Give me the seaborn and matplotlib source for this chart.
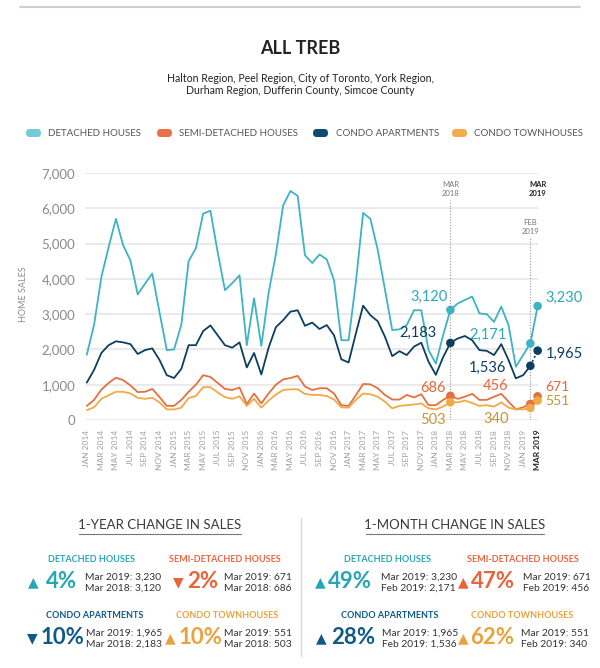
import matplotlib
matplotlib.use("Agg")
import matplotlib.pyplot as plt
import seaborn as sns
import pandas as pd
import numpy as np
from matplotlib.patches import FancyBboxPatch
from matplotlib.lines import Line2D
from matplotlib.ticker import FuncFormatter

# ---------------- data ----------------
months = ["JAN", "FEB", "MAR", "APR", "MAY", "JUN", "JUL", "AUG", "SEP", "OCT", "NOV", "DEC"]
dates = [f"{months[i % 12]} {2014 + i // 12}" for i in range(63)]  # Jan 2014 .. Mar 2019

detached = [1850, 2700, 4050, 4900, 5700, 4950, 4520, 3560, 3860, 4150, 3050, 1980,
            2000, 2700, 4500, 4870, 5850, 5930, 4750, 3680, 3880, 4100, 2120, 3450,
            2100, 3600, 4700, 6080, 6490, 6350, 4670, 4450, 4690, 4550, 3960, 2260,
            2260, 3900, 5870, 5700, 4830, 3700, 2550, 2570, 2690, 3110, 3110, 1980,
            1600, 2400, 3120, 3300, 3400, 3500, 3020, 3000, 2780, 3210, 2690, 1510,
            1840, 2171, 3230]
semi = [400, 570, 860, 1050, 1200, 1130, 980, 790, 800, 880, 650, 400,
        400, 570, 800, 1000, 1270, 1220, 1050, 880, 850, 920, 450, 750,
        470, 750, 1000, 1150, 1190, 1250, 950, 850, 900, 900, 750, 420,
        400, 700, 1020, 1010, 900, 710, 580, 580, 710, 640, 730, 420,
        420, 570, 686, 600, 660, 740, 570, 570, 660, 740, 520, 300,
        360, 456, 671]
condo_apt = [1060, 1420, 1900, 2120, 2230, 2200, 2150, 1870, 1980, 2030, 1700, 1270,
             1190, 1450, 2120, 2120, 2520, 2680, 2400, 2120, 2050, 2200, 1490, 1900,
             1290, 2050, 2630, 2830, 3070, 3110, 2670, 2760, 2580, 2690, 2400, 1720,
             1630, 2450, 3240, 2970, 2800, 2360, 1810, 1950, 1840, 2080, 2190, 1650,
             1280, 1780, 2183, 2310, 2380, 2260, 1980, 1960, 1840, 2150, 1700, 1180,
             1270, 1536, 1965]
condo_town = [280, 360, 600, 700, 800, 800, 750, 630, 600, 630, 500, 300,
              300, 350, 620, 680, 930, 930, 780, 650, 600, 670, 400, 600,
              350, 550, 720, 850, 870, 870, 740, 710, 710, 680, 580, 360,
              350, 570, 750, 730, 660, 520, 330, 400, 420, 440, 470, 330,
              300, 380, 503, 500, 550, 480, 400, 420, 380, 500, 350, 300,
              300, 340, 551]

series_names = ["DETACHED HOUSES", "SEMI-DETACHED HOUSES", "CONDO APARTMENTS", "CONDO TOWNHOUSES"]
series_values = [detached, semi, condo_apt, condo_town]
line_colors = ["#3db3c3", "#e4703f", "#0c3f5f", "#efaa45"]
label_colors = ["#2aa9b9", "#e4673c", "#0c3f5f", "#c9923a"]

tick_idx = list(range(0, 63, 2))
tick_labels = [dates[i] for i in tick_idx]

highlight_idx = [50, 61, 62]  # Mar 2018, Feb 2019, Mar 2019

# 1-year / 1-month change panels
year_pct = ["4%", "2%", "10%", "10%"]
year_up = [True, False, False, True]
year_lines = [("Mar 2019: 3,230", "Mar 2018: 3,120"), ("Mar 2019: 671", "Mar 2018: 686"),
              ("Mar 2019: 1,965", "Mar 2018: 2,183"), ("Mar 2019: 551", "Mar 2018: 503")]
month_pct = ["49%", "47%", "28%", "62%"]
month_up = [True, True, True, True]
month_lines = [("Mar 2019: 3,230", "Feb 2019: 2,171"), ("Mar 2019: 671", "Feb 2019: 456"),
               ("Mar 2019: 1,965", "Feb 2019: 1,536"), ("Mar 2019: 551", "Feb 2019: 340")]

# ---------------- frame ----------------
rows = []
for name, vals in zip(series_names, series_values):
    for i, v in enumerate(vals):
        rows.append({"idx": i, "sales": v, "type": name})
df = pd.DataFrame(rows)
palette = dict(zip(series_names, line_colors))

sns.set_theme(style="white")
plt.rcParams["font.family"] = ["Lato", "DejaVu Sans"]

W, H = 600, 668
fig = plt.figure(figsize=(W / 100, H / 100), dpi=100)
fig.patch.set_facecolor("white")

def fx(px):
    return px / W

def fy(py):
    return 1 - py / H

ax = fig.add_axes([fx(85), fy(420), 453 / W, 247 / H])

solid = df[df["idx"] <= 61]
sns.lineplot(data=solid, x="idx", y="sales", hue="type", palette=palette,
             hue_order=series_names, legend=False, ax=ax, linewidth=1.3, sort=True)
# dotted final segment for three series, solid for detached
last = df[df["idx"] >= 61]
sns.lineplot(data=last[last["type"] == series_names[0]], x="idx", y="sales", color=line_colors[0],
             legend=False, ax=ax, linewidth=1.3)
for name, col in zip(series_names[1:], line_colors[1:]):
    sns.lineplot(data=last[last["type"] == name], x="idx", y="sales", color=col,
                 legend=False, ax=ax, linewidth=1.3, linestyle=(0, (1, 1.5)))
pts = df[df["idx"].isin(highlight_idx)]
sns.scatterplot(data=pts, x="idx", y="sales", hue="type", palette=palette, hue_order=series_names,
                legend=False, ax=ax, s=38, edgecolor="none", zorder=5, clip_on=False)

ax.set_xlim(-0.25, 62.05)
ax.set_ylim(0, 7000)
ax.set_yticks(range(0, 7001, 1000))
ax.yaxis.set_major_formatter(FuncFormatter(lambda v, p: f"{int(v):,}"))
ax.set_xticks(tick_idx)
ax.set_xticklabels(tick_labels, rotation=90, fontsize=6, color="#a0a0a0")
xl = ax.get_xticklabels()
xl[-1].set_fontweight("bold")
xl[-1].set_color("#222222")
ax.tick_params(axis="y", length=0, labelsize=9.5, labelcolor="#8a8a8a", pad=7)
ax.tick_params(axis="x", direction="in", length=4, color="#d6d6d6", pad=7)
ax.yaxis.grid(True, color="#e6e6e6", linewidth=1.2)
ax.xaxis.grid(False)
for s in ax.spines.values():
    s.set_visible(False)
ax.set_xlabel("")
ax.set_ylabel("HOME SALES", fontsize=6.5, color="#8a8a8a")
ax.yaxis.set_label_coords(-0.125, 0.51)

# vertical reference lines
ax.vlines(50, 0, 6230, colors="#9a9a9a", linestyles=(0, (1, 1.5)), linewidth=0.8)
ax.vlines(61, 0, 5180, colors="#9a9a9a", linestyles=(0, (1, 1.5)), linewidth=0.8)
ax.vlines(62, 0, 6290, colors="#9a9a9a", linestyles=(0, (1, 1.5)), linewidth=0.8)
ax.text(50, 6550, "MAR\n2018", ha="center", va="center", fontsize=5.5, color="#777777",
        linespacing=1.3)
ax.text(61, 5480, "FEB\n2019", ha="center", va="center", fontsize=5.5, color="#777777",
        linespacing=1.3)
ax.text(62, 6550, "MAR\n2019", ha="center", va="center", fontsize=5.5, color="#222222",
        fontweight="bold", linespacing=1.3)

# value labels
def vlabel(x, y, s, col, ha):
    ax.text(x, y, s, ha=ha, va="center", fontsize=10.5, color=col, clip_on=False)

vlabel(49.6, 3480, "3,120", label_colors[0], "right")
vlabel(48.1, 2465, "2,183", label_colors[2], "right")
vlabel(57.7, 2410, "2,171", label_colors[0], "right")
vlabel(57.6, 1475, "1,536", label_colors[2], "right")
vlabel(49.35, 905, "686", label_colors[1], "right")
vlabel(58.0, 960, "456", label_colors[1], "right")
vlabel(49.35, 0, "503", label_colors[3], "right")
vlabel(58.1, 25, "340", label_colors[3], "right")
vlabel(63.1, 3456, "3,230", label_colors[0], "left")
vlabel(63.1, 1870, "1,965", label_colors[2], "left")
ax.text(63.1, 930, "671", ha="left", va="center", fontsize=10, color=label_colors[1],
        clip_on=False)
ax.text(63.1, 530, "551", ha="left", va="center", fontsize=10, color=label_colors[3],
        clip_on=False)

# ---------------- header ----------------
fig.add_artist(Line2D([fx(20), fx(580)], [fy(7), fy(7)], color="#cfcfcf", linewidth=1.5))
fig.text(0.5, fy(49), "ALL TREB", ha="center", va="center", fontsize=13, fontweight="bold",
         color="#222222")
fig.text(0.5, fy(78), "Halton Region, Peel Region, City of Toronto, York Region,",
         ha="center", va="center", fontsize=7.6, color="#222222")
fig.text(0.5, fy(91), "Durham Region, Dufferin County, Simcoe County",
         ha="center", va="center", fontsize=7.6, color="#222222")

legend_patch_x = [26, 157, 313, 452]
legend_text_x = [48, 179, 336, 474]
patch_colors = ["#74cbd6", "#ec7049", "#0d4a70", "#f1ac4b"]
for px, tx, name, col in zip(legend_patch_x, legend_text_x, series_names, patch_colors):
    fig.add_artist(FancyBboxPatch((fx(px), fy(137)), 15 / W, 8 / H,
                                  boxstyle="round,pad=0,rounding_size=0.006",
                                  transform=fig.transFigure, facecolor=col, edgecolor="none"))
    fig.text(fx(tx), fy(133), name, ha="left", va="center", fontsize=7, color="#555555")

# ---------------- bottom panels ----------------
fig.add_artist(Line2D([fx(301), fx(301)], [fy(518), fy(656)], color="#d9d9d9", linewidth=1))

def heading(cx, s, x0, x1):
    fig.text(fx(cx), fy(525), s, ha="center", va="center", fontsize=9.5, color="#3a3a3a",
             fontweight="normal")
    fig.add_artist(Line2D([fx(x0), fx(x1)], [fy(534), fy(534)], color="#777777", linewidth=0.8))

heading(160, "1-YEAR CHANGE IN SALES", 79, 241)
heading(455, "1-MONTH CHANGE IN SALES", 366, 544)

pct_colors = ["#27a6b6", "#e8643c", "#0f5a85", "#e9a23d"]

def item(label, lab_cx, lab_y, arrow_cx, pct_x, txt_x, row_y, col, up, pct, lines):
    fig.text(fx(lab_cx), fy(lab_y), label, ha="center", va="center", fontsize=6.5,
             color=col, fontweight="bold")
    fig.text(fx(arrow_cx), fy(row_y), "▲" if up else "▼", ha="center", va="center",
             fontsize=10, color=col, family=["DejaVu Sans"])
    fig.text(fx(pct_x), fy(row_y), pct, ha="left", va="center", fontsize=16, color=col,
             fontweight="bold")
    fig.text(fx(txt_x), fy(row_y - 5), lines[0], ha="left", va="center", fontsize=7.4,
             color="#333333")
    fig.text(fx(txt_x), fy(row_y + 6.5), lines[1], ha="left", va="center", fontsize=7.4,
             color="#333333")

# left panel (1-year), right panel (1-month)
left_layout = [(92, 560, 33, 46, 85, 582), (225, 560, 178, 187, 224, 582),
               (95, 616, 32, 41, 86, 638), (227, 616, 170, 179, 224, 638)]
right_layout = [(388, 560, 320, 328, 381, 582), (523, 560, 463, 471, 523, 582),
                (390, 616, 321, 331, 382, 638), (522, 616, 463, 470, 521, 638)]
for k in range(4):
    lc, ly, ac, px_, tx_, ry = left_layout[k]
    item(series_names[k], lc, ly, ac, px_, tx_, ry, pct_colors[k], year_up[k], year_pct[k],
         year_lines[k])
    lc, ly, ac, px_, tx_, ry = right_layout[k]
    item(series_names[k], lc, ly, ac, px_, tx_, ry, pct_colors[k], month_up[k], month_pct[k],
         month_lines[k])

fig.savefig("out.png", dpi=100, facecolor="white")
